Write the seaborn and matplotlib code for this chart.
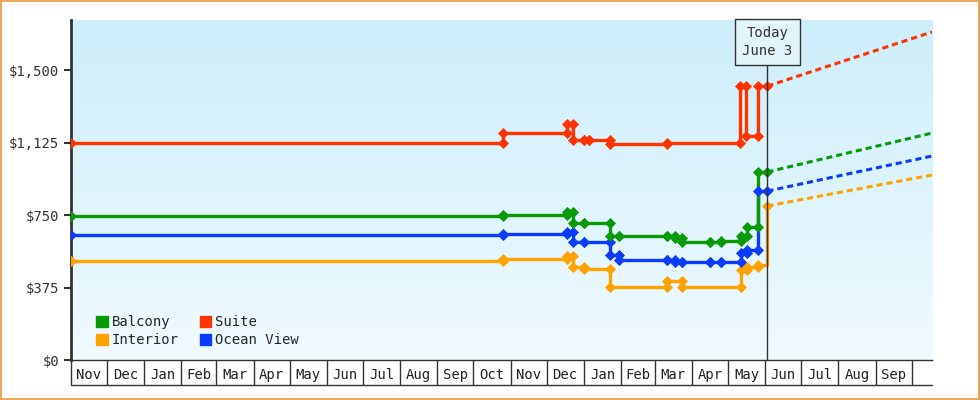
import matplotlib
matplotlib.use("Agg")
import matplotlib.pyplot as plt
from matplotlib.colors import LinearSegmentedColormap
from matplotlib.patches import Patch
import seaborn as sns
import pandas as pd
import numpy as np

sns.set_style("white")
plt.rcParams['font.family'] = ['DejaVu Sans Mono', 'DejaVu Sans']

categories = ["Balcony", "Interior", "Suite", "Ocean View"]
colors = {"Balcony": "#069a06", "Interior": "#ffa200", "Suite": "#ff3300", "Ocean View": "#0a3cff"}

suite_dates = ["2023-11-01", "2024-10-26", "2024-12-18", "2024-12-23", "2025-01-01", "2025-01-05",
               "2025-01-23", "2025-03-11", "2025-05-11", "2025-05-16", "2025-05-26", "2025-06-03"]
suite_prices = [1125, 1174, 1221, 1138, 1138, 1138, 1117, 1122, 1417, 1159, 1417, 1417]

balcony_dates = ["2023-11-01", "2024-10-26", "2024-12-18", "2024-12-23", "2025-01-01", "2025-01-23",
                 "2025-01-30", "2025-03-11", "2025-03-18", "2025-03-24", "2025-04-16", "2025-04-25",
                 "2025-05-12", "2025-05-17", "2025-05-26", "2025-06-03"]
balcony_prices = [745, 752, 766, 709, 709, 641, 641, 641, 630, 610, 610, 615, 641, 688, 973, 973]

ocean_dates = ["2023-11-01", "2024-10-26", "2024-12-18", "2024-12-23", "2025-01-01", "2025-01-23",
               "2025-01-30", "2025-03-11", "2025-03-18", "2025-03-24", "2025-04-16", "2025-04-25",
               "2025-05-12", "2025-05-17", "2025-05-26", "2025-06-03"]
ocean_prices = [647, 652, 662, 610, 610, 543, 517, 517, 507, 507, 507, 507, 553, 569, 874, 874]

interior_dates = ["2023-11-01", "2024-10-26", "2024-12-18", "2024-12-23", "2025-01-01", "2025-01-23",
                  "2025-03-11", "2025-03-24", "2025-05-12", "2025-05-17", "2025-05-26", "2025-06-03"]
interior_prices = [512, 522, 538, 481, 471, 378, 409, 378, 466, 481, 491, 797]

proj_end_date = "2025-10-18"
proj_end_prices = {"Suite": 1697, "Balcony": 1174, "Ocean View": 1055, "Interior": 957}

today = "2025-06-03"
y_ticks = [0, 375, 750, 1125, 1500]
y_labels = ["$0", "$375", "$750", "$1,125", "$1,500"]
month_labels = ["Nov", "Dec", "Jan", "Feb", "Mar", "Apr", "May", "Jun", "Jul", "Aug", "Sep", "Oct",
                "Nov", "Dec", "Jan", "Feb", "Mar", "Apr", "May", "Jun", "Jul", "Aug", "Sep"]

series = {"Balcony": (balcony_dates, balcony_prices), "Interior": (interior_dates, interior_prices),
          "Suite": (suite_dates, suite_prices), "Ocean View": (ocean_dates, ocean_prices)}

fig = plt.figure(figsize=(9.8, 4.0), dpi=100)
ax = fig.add_axes([71/980, 40/400, 861/980, 340/400])

cmap = LinearSegmentedColormap.from_list("bg", ["#f0faff", "#cdeefb"])
grad = np.linspace(0, 1, 256).reshape(-1, 1)
ax.imshow(grad, extent=[0, 1, 0, 1], transform=ax.transAxes, aspect='auto', cmap=cmap,
          origin='lower', zorder=0)

draw_order = ["Interior", "Ocean View", "Balcony", "Suite"]
for name in draw_order:
    d, p = series[name]
    df = pd.DataFrame({"date": pd.to_datetime(d), "price": p})
    c = colors[name]
    sns.lineplot(data=df, x="date", y="price", ax=ax, color=c, lw=2.4, drawstyle="steps-post", zorder=3)
    prev = pd.DataFrame({"date": df["date"][1:-1], "price": df["price"].shift(1)[1:-1]})
    mk = pd.concat([df, prev])
    sns.scatterplot(data=mk, x="date", y="price", ax=ax, color=c, marker="D", s=32,
                    edgecolor=c, linewidth=0, zorder=4)
    pj = pd.DataFrame({"date": pd.to_datetime([today, proj_end_date]),
                       "price": [p[-1], proj_end_prices[name]]})
    sns.lineplot(data=pj, x="date", y="price", ax=ax, color=c, lw=2.2, linestyle=(0, (2, 1.3)), zorder=3)

start = pd.Timestamp("2023-11-01")
ax.set_xlim(start, pd.Timestamp(proj_end_date))
ax.set_ylim(0, 1759)
ax.set_yticks(y_ticks)
ax.set_yticklabels(y_labels, fontsize=10, color="#333333")
ax.set_xlabel("")
ax.set_ylabel("")

bounds = pd.date_range(start, periods=24, freq="MS")
mids = [b + (bounds[i+1] - b) / 2 for i, b in enumerate(bounds[:-1])]
ax.set_xticks(bounds)
ax.set_xticklabels([])
ax.set_xticks(mids, minor=True)
ax.set_xticklabels(month_labels, minor=True, fontsize=10, color="#222222")
ax.tick_params(axis="x", which="major", bottom=True, length=18, width=1, color="#333333", direction="out")
ax.tick_params(axis="x", which="minor", bottom=True, length=0, pad=6)
ax.tick_params(axis="y", length=5, width=1.5, color="#333333", direction="out", left=True)
ax.plot([0, 1], [-25/340, -25/340], transform=ax.transAxes, color="#333333", lw=1, clip_on=False)

for s in ["top", "right"]:
    ax.spines[s].set_visible(False)
ax.spines["left"].set_linewidth(2)
ax.spines["left"].set_color("#333333")
ax.spines["bottom"].set_linewidth(1)
ax.spines["bottom"].set_color("#333333")

t = pd.Timestamp(today)
ax.plot([t, t], [0, 1759], color="#333333", lw=1, zorder=5)
ax.text(t, 1645, "Today\nJune 3", ha="center", va="center",
        fontsize=10, color="#333333", linespacing=1.4,
        bbox=dict(boxstyle="square,pad=0.5", fc="#e2f5fb", ec="#333333", lw=1), zorder=6)

handles = [Patch(color=colors[n], label=n) for n in categories]
ax.legend(handles=handles, ncol=2, loc="lower left", bbox_to_anchor=(0.015, 0.0), frameon=False,
          fontsize=10, handlelength=0.8, handleheight=0.8, handletextpad=0.3, columnspacing=1.5,
          labelspacing=0.3)

fig.patches.append(plt.Rectangle((0.001, 0.002), 0.998, 0.996, transform=fig.transFigure,
                                 fill=False, ec="#e8a860", lw=1.5))
fig.savefig("out.png", dpi=100)
